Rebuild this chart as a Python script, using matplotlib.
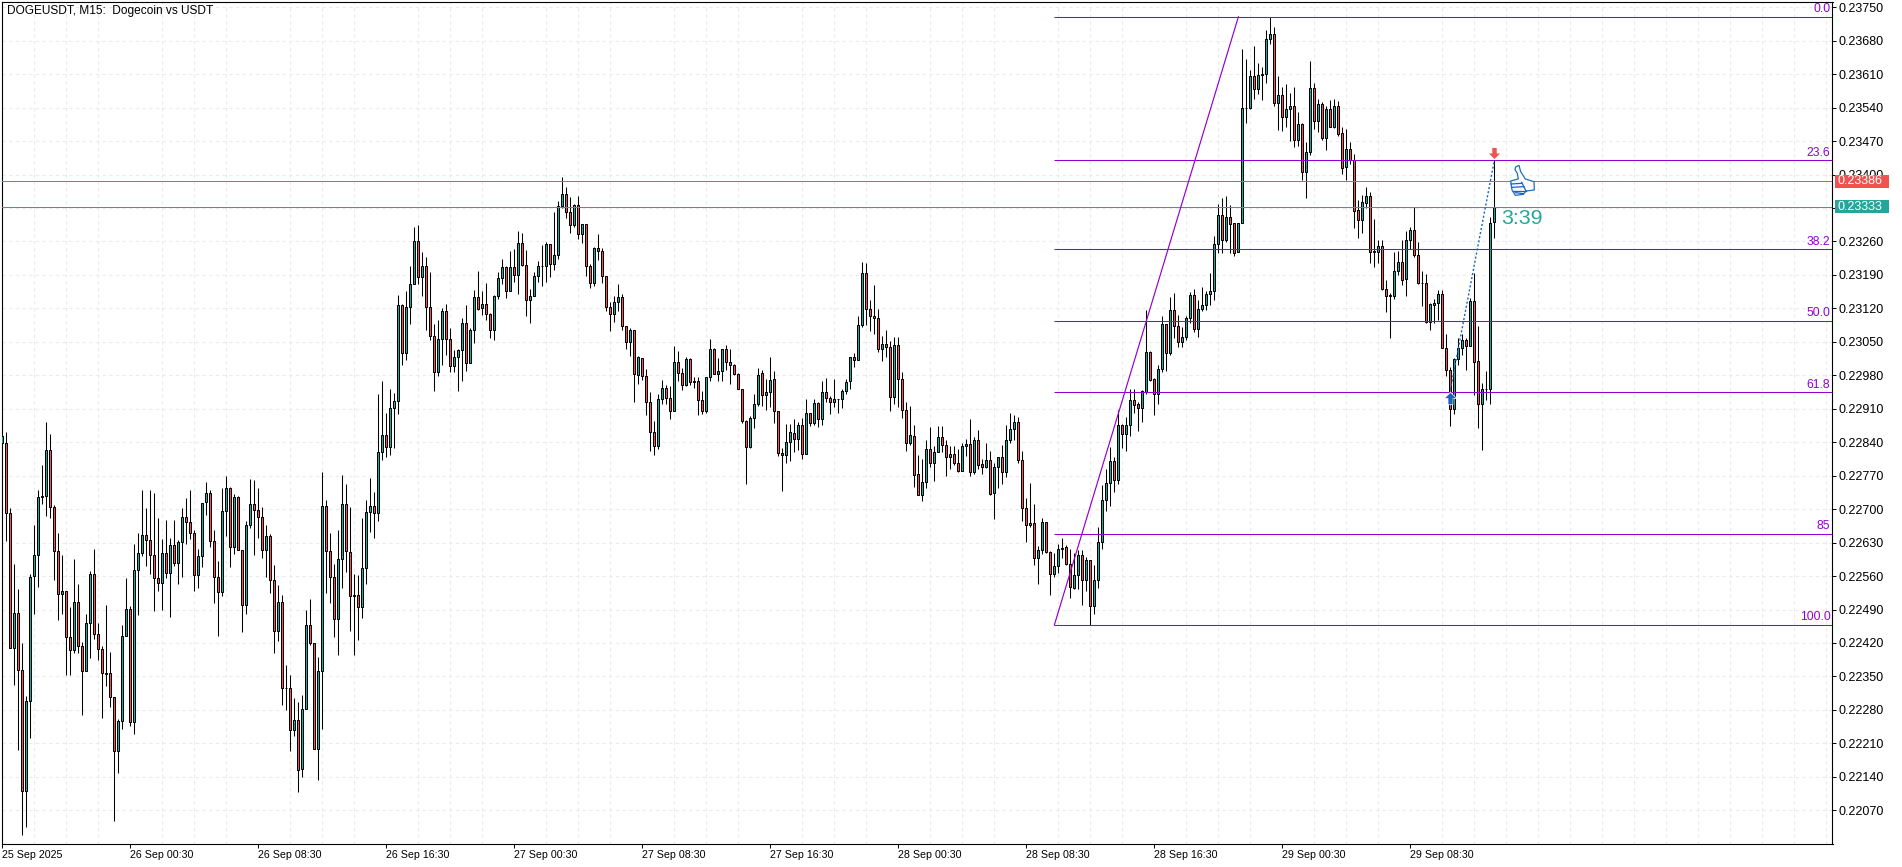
import numpy as np
import matplotlib
matplotlib.use("Agg")
import matplotlib.pyplot as plt
from matplotlib.path import Path
from matplotlib.patches import Rectangle, Polygon
from matplotlib.transforms import blended_transform_factory

W, H = 1902, 867
FONT = "Liberation Sans"
plt.rcParams["font.family"] = [FONT, "DejaVu Sans"]

# OHLC in 1e-5 price points, one candle every 15 minutes
opens = [
22838,22838,22692,22409,22483,22363,22110,22299,22560,22604,
22725,22727,22824,22704,22612,22522,22529,22432,22405,22506,
22413,22361,22462,22564,22439,22407,22357,22357,22307,22194,
22257,22434,22491,22255,22572,22608,22645,22635,22604,22556,
22545,22608,22566,22625,22587,22631,22683,22673,22650,22562,
22602,22714,22734,22633,22558,22527,22696,22744,22621,22725,
22614,22499,22667,22710,22698,22683,22614,22644,22552,22445,
22506,22326,22326,22237,22259,22156,22282,22458,22420,22198,
22361,22706,22613,22559,22471,22596,22711,22611,22521,22521,
22495,22576,22693,22706,22691,22819,22855,22831,22911,22926,
23127,23027,23123,23171,23261,23186,23209,23123,23062,22987,
23056,23114,23056,22999,23018,23033,23089,23006,23075,23144,
23120,23129,23108,23075,23146,23183,23206,23156,23206,23189,
23257,23211,23137,23146,23187,23208,23209,23255,23212,23232,
23334,23359,23321,23294,23336,23275,23296,23209,23174,23246,
23240,23187,23123,23108,23133,23144,23083,23050,23075,22981,
23016,22979,22924,22861,22832,22931,22954,22933,22906,23008,
22985,22960,23014,22968,22968,22929,22905,22977,23035,22983,
22989,23035,23008,23001,22982,22952,22885,22830,22891,22920,
22985,22939,22945,22973,22906,22818,22814,22841,22860,22847,
22876,22816,22901,22881,22922,22889,22945,22933,22924,22931,
22931,22947,22968,23019,23012,23086,23194,23118,23104,23099,
23035,23046,23039,22935,23044,22973,22908,22838,22853,22774,
22730,22757,22826,22797,22820,22851,22835,22809,22816,22797,
22780,22832,22837,22777,22845,22794,22789,22803,22733,22789,
22810,22777,22845,22868,22882,22802,22702,22670,22670,22597,
22615,22674,22611,22565,22582,22617,22620,22586,22535,22563,
22605,22552,22593,22497,22552,22632,22720,22755,22800,22761,
22875,22858,22875,22929,22919,22911,22945,23028,22973,22941,
22993,23088,23027,23117,23084,23050,23061,23100,23148,23077,
23118,23127,23151,23157,23255,23315,23262,23312,23298,23237,
23299,23539,23539,23607,23578,23608,23611,23683,23694,23550,
23567,23521,23536,23544,23473,23506,23405,23447,23580,23511,
23548,23476,23538,23499,23544,23486,23416,23454,23431,23325,
23305,23340,23356,23239,23238,23251,23161,23147,23146,23198,
23216,23182,23264,23283,23232,23173,23173,23092,23127,23131,
23151,23038,22992,22910,23014,23038,23053,23042,23136,23009,
22919,22951,22952,23301]

closes = [
22854,22692,22409,22483,22363,22110,22299,22558,22604,22725,
22727,22824,22704,22612,22522,22529,22432,22405,22506,22413,
22361,22462,22564,22439,22407,22357,22356,22307,22194,22257,
22435,22491,22255,22573,22608,22645,22635,22604,22556,22545,
22608,22566,22625,22587,22631,22683,22673,22650,22562,22602,
22713,22734,22633,22558,22527,22696,22744,22621,22725,22614,
22499,22667,22710,22698,22683,22614,22644,22552,22445,22506,
22326,22325,22237,22259,22154,22282,22458,22420,22198,22361,
22706,22613,22559,22471,22596,22711,22613,22519,22519,22495,
22576,22693,22706,22691,22819,22855,22831,22911,22926,23127,
23027,23123,23171,23261,23186,23209,23123,23062,22987,23056,
23114,23056,22999,23018,23033,23089,23006,23075,23144,23119,
23129,23108,23075,23146,23183,23206,23156,23206,23189,23257,
23211,23137,23146,23187,23208,23209,23255,23212,23232,23334,
23359,23321,23294,23337,23275,23296,23208,23174,23246,23239,
23187,23123,23108,23133,23144,23083,23050,23075,22983,23018,
22979,22924,22861,22832,22931,22954,22932,22906,23008,22985,
22960,23014,22966,22966,22929,22906,22977,23035,22983,22989,
23035,23008,23001,22982,22952,22884,22830,22891,22920,22981,
22939,22945,22970,22906,22818,22814,22841,22862,22847,22876,
22816,22901,22881,22922,22889,22945,22932,22924,22931,22930,
22947,22966,23019,23012,23086,23194,23118,23104,23099,23035,
23046,23039,22935,23044,22973,22908,22838,22855,22772,22730,
22757,22826,22797,22820,22851,22835,22809,22816,22796,22780,
22833,22837,22777,22845,22793,22789,22803,22732,22789,22810,
22777,22845,22868,22882,22802,22702,22667,22667,22597,22615,
22674,22611,22565,22582,22617,22619,22586,22537,22563,22605,
22552,22593,22497,22552,22632,22720,22755,22800,22761,22875,
22858,22875,22929,22918,22911,22947,23028,22971,22941,22993,
23088,23027,23117,23084,23050,23061,23100,23148,23077,23118,
23127,23151,23157,23255,23315,23262,23312,23297,23236,23299,
23540,23540,23607,23578,23609,23611,23684,23694,23550,23567,
23521,23536,23544,23473,23506,23405,23447,23580,23511,23548,
23476,23538,23499,23544,23485,23414,23454,23431,23324,23305,
23342,23356,23238,23238,23251,23161,23146,23146,23199,23216,
23180,23264,23283,23232,23172,23172,23092,23129,23131,23151,
23038,22992,22910,23014,23038,23053,23042,23136,23008,22919,
22952,22952,23299,23333]

highs = [
22854,22861,22702,22586,22532,22420,22310,22565,22667,22741,
22793,22882,22858,22709,22650,22603,22529,22495,22596,22544,
22423,22481,22571,22617,22462,22414,22499,22401,22307,22260,
22458,22555,22497,22627,22650,22741,22703,22739,22734,22681,
22637,22678,22640,22677,22635,22703,22724,22739,22657,22617,
22713,22757,22739,22657,22592,22745,22770,22746,22731,22728,
22614,22675,22763,22760,22744,22704,22667,22649,22584,22542,
22520,22374,22353,22305,22297,22312,22488,22513,22420,22391,
22778,22720,22651,22586,22656,22771,22752,22705,22564,22562,
22682,22720,22765,22735,22941,22969,22902,22951,22943,23148,
23130,23157,23209,23291,23294,23238,23227,23197,23088,23096,
23121,23130,23079,23033,23036,23100,23128,23078,23159,23199,
23157,23174,23110,23148,23197,23224,23208,23241,23244,23282,
23278,23243,23160,23197,23220,23253,23259,23255,23322,23344,
23395,23374,23353,23339,23356,23296,23296,23213,23248,23276,
23246,23187,23133,23145,23171,23151,23083,23078,23075,23021,
23016,22993,22946,22885,22941,22970,22959,22957,23042,23030,
22996,23019,23016,22977,22977,22948,22977,23056,23037,23017,
23035,23044,23036,23003,22984,22952,22887,22895,22940,22996,
22991,22973,23019,22989,22906,22828,22878,22878,22888,22883,
22891,22930,22901,22931,22924,22967,22975,22936,22973,22931,
22952,22973,23019,23026,23105,23218,23215,23138,23168,23119,
23063,23074,23051,23060,23060,22986,22924,22915,22877,22814,
22804,22845,22871,22832,22873,22873,22844,22832,22833,22825,
22838,22847,22888,22851,22866,22804,22838,22821,22796,22810,
22834,22877,22901,22896,22892,22821,22723,22755,22710,22622,
22682,22674,22612,22608,22628,22639,22625,22616,22608,22615,
22615,22599,22593,22583,22662,22750,22783,22831,22808,22907,
22878,22892,22951,22952,22924,22949,23116,23030,22975,23002,
23103,23088,23143,23153,23107,23082,23105,23154,23160,23137,
23165,23157,23195,23272,23338,23350,23356,23336,23299,23299,
23663,23641,23619,23668,23634,23624,23702,23729,23709,23606,
23584,23590,23571,23584,23530,23508,23469,23637,23592,23557,
23552,23544,23555,23557,23553,23499,23496,23468,23442,23346,
23357,23373,23364,23306,23264,23264,23180,23153,23237,23241,
23262,23282,23291,23332,23258,23199,23192,23131,23139,23158,
23159,23066,22998,23016,23057,23067,23057,23142,23193,23083,
22963,22988,23311,23430]

lows = [
22831,22633,22409,22333,22197,22018,22036,22221,22481,22538,
22711,22686,22681,22552,22467,22481,22354,22352,22400,22400,
22269,22361,22389,22428,22384,22264,22329,22285,22047,22149,
22239,22434,22246,22229,22479,22601,22582,22564,22486,22529,
22490,22556,22475,22580,22544,22559,22626,22638,22529,22534,
22578,22688,22621,22503,22434,22518,22644,22578,22606,22614,
22442,22480,22660,22603,22640,22597,22557,22524,22398,22425,
22290,22279,22193,22225,22108,22139,22282,22415,22198,22134,
22240,22525,22504,22433,22395,22535,22569,22445,22395,22426,
22472,22543,22652,22640,22675,22802,22808,22814,22827,22900,
23002,23013,23088,23171,23170,23146,23075,23054,22948,22978,
23002,23023,22987,22987,22948,22967,22988,23006,23047,23117,
23107,23095,23059,23054,23139,23170,23141,23156,23176,23151,
23209,23105,23089,23145,23176,23166,23176,23185,23201,23224,
23329,23308,23277,23291,23266,23256,23188,23162,23166,23222,
23174,23114,23073,23091,23114,23074,23034,23021,22925,22962,
22971,22896,22821,22813,22825,22920,22919,22888,22906,22967,
22950,22958,22960,22953,22897,22899,22901,22968,22982,22969,
22969,22992,22961,22981,22952,22881,22752,22828,22869,22915,
22915,22908,22913,22881,22811,22738,22796,22800,22819,22823,
22804,22816,22874,22876,22871,22877,22925,22898,22913,22901,
22912,22940,22952,22998,23012,23081,23085,23072,23067,23028,
23010,23018,22906,22919,22913,22890,22821,22835,22746,22729,
22718,22745,22788,22758,22820,22820,22770,22784,22793,22777,
22780,22812,22770,22774,22783,22774,22785,22730,22679,22744,
22753,22767,22839,22844,22797,22675,22632,22663,22584,22544,
22606,22608,22521,22558,22567,22598,22583,22514,22532,22533,
22500,22529,22458,22481,22535,22617,22697,22706,22736,22753,
22828,22822,22854,22902,22864,22883,22941,22969,22897,22919,
22987,22988,23022,23058,23039,23039,23054,23090,23071,23060,
23114,23116,23127,23137,23235,23235,23259,23235,23230,23237,
23299,23508,23537,23558,23568,23556,23592,23673,23543,23493,
23492,23499,23470,23458,23460,23388,23351,23440,23496,23489,
23472,23451,23499,23498,23480,23402,23388,23423,23288,23267,
23278,23329,23214,23207,23214,23158,23112,23058,23140,23189,
23168,23146,23245,23227,23171,23124,23090,23074,23090,23095,
23038,22979,22874,22900,23001,23022,22991,23041,22939,22869,
22823,22928,22919,23267]

time_ticks = [0, 32, 64, 96, 128, 160, 192, 224, 256, 288, 320, 352]
time_labels = ["25 Sep 2025", "26 Sep 00:30", "26 Sep 08:30", "26 Sep 16:30",
               "27 Sep 00:30", "27 Sep 08:30", "27 Sep 16:30", "28 Sep 00:30",
               "28 Sep 08:30", "28 Sep 16:30", "29 Sep 00:30", "29 Sep 08:30"]
price_ticks = [0.22070, 0.22140, 0.22210, 0.22280, 0.22350, 0.22420, 0.22490,
               0.22560, 0.22630, 0.22700, 0.22770, 0.22840, 0.22910, 0.22980,
               0.23050, 0.23120, 0.23190, 0.23260, 0.23330, 0.23400, 0.23470,
               0.23540, 0.23610, 0.23680, 0.23750]
fib_prices = [0.23730, 0.23430, 0.23244, 0.23094, 0.22944, 0.22649, 0.22458]
fib_names = ["0.0", "23.6", "38.2", "50.0", "61.8", "85", "100.0"]
fib_bar_start, fib_bar_end = 263, 309
ask_price, bid_price = 0.23386, 0.23333
trade_bars = [362, 373]
trade_prices = [0.22950, 0.23430]
arrow_prices = [0.22932, 0.23445]
timer_text = "3:39"
title_text = "DOGEUSDT, M15:  Dogecoin vs USDT"

UP, DOWN = "#26A69A", "#EF5350"
PURPLE = "#9400D3"
BLUE = "#1565C0"
GRID = "#EBEBEB"

o, c, hi, lo = [np.array(a) / 1e5 for a in (opens, closes, highs, lows)]
assert len(o) == len(c) == len(hi) == len(lo)
idx = np.arange(len(o))

fig = plt.figure(figsize=(W / 100, H / 100), dpi=100, facecolor="white")
L, R, T, B = 2.4, 1832.5, 2.2, 843.5
ax = fig.add_axes([L / W, 1 - B / H, (R - L) / W, (B - T) / H])
ax.set_xlim(0, (R - L) / 4)
ax.set_ylim(0.2375 - (B - 7.2) / 47802, 0.2375 + (7.2 - T) / 47802)
ax.set_facecolor("white")
ax.set_axisbelow(True)

# grid and ticks
ax.set_xticks(time_ticks)
ax.set_xticklabels(time_labels, ha="left", fontsize=7.7)
ax.set_xticks(np.arange(0, 458, 8), minor=True)
ax.set_yticks(price_ticks)
ax.set_yticklabels([f"{p:.5f}" for p in price_ticks], fontsize=9)
ax.yaxis.tick_right()
ax.tick_params(axis="x", which="major", length=3, width=0.7, pad=1.5, color="black")
ax.tick_params(axis="y", which="major", length=3, width=0.7, pad=1.0, color="black")
ax.tick_params(axis="x", which="minor", length=0)
ax.grid(True, axis="x", which="minor", color=GRID, ls=(0, (3, 3)), lw=0.8)
ax.grid(True, axis="y", which="major", color=GRID, ls=(0, (3, 3)), lw=0.8)
for s in ax.spines.values():
    s.set_linewidth(0.8)
    s.set_color("black")

# candles
ax.vlines(idx, lo, hi, color="black", lw=0.75, zorder=3)
up = c >= o
ax.bar(idx[up], (c - o)[up], bottom=o[up], width=0.5, color=UP, edgecolor="black", lw=0.72, zorder=4)
ax.bar(idx[~up], (o - c)[~up], bottom=c[~up], width=0.5, color=DOWN, edgecolor="black", lw=0.72, zorder=4)

# price lines
ax.axhline(ask_price, color=DOWN, lw=0.72, zorder=5)
ax.axhline(bid_price, color=UP, lw=0.72, zorder=5)

# fibonacci
xmax = ax.get_xlim()[1]
ax.hlines(fib_prices, fib_bar_start, xmax, color=PURPLE, lw=0.75, zorder=6)
ax.plot([fib_bar_start, fib_bar_end], [fib_prices[-1], fib_prices[0]], color=PURPLE, lw=0.85, zorder=6)
for p, name in zip(fib_prices, fib_names):
    ax.annotate(name, xy=(1, p), xycoords=ax.get_yaxis_transform(), xytext=(-1.5, 1.0),
                textcoords="offset points", ha="right", va="bottom", color=PURPLE,
                fontsize=8.7, zorder=7)

# trade marks
ax.plot(trade_bars, trade_prices, color=BLUE, lw=1.0, ls=(0, (1.5, 1.5)), zorder=7)
arrow_up = Path([(0, .5), (.5, 0), (.2, 0), (.2, -.5), (-.2, -.5), (-.2, 0), (-.5, 0), (0, .5)], closed=True)
arrow_dn = Path([(0, -.5), (.5, 0), (.2, 0), (.2, .5), (-.2, .5), (-.2, 0), (-.5, 0), (0, -.5)], closed=True)
ax.plot(trade_bars[0], arrow_prices[0], marker=arrow_up, ms=9, color=BLUE, mec="white", mew=0.5, zorder=8)
ax.plot(trade_bars[1], arrow_prices[1], marker=arrow_dn, ms=8, color=DOWN, mew=0, zorder=8)

# timer
ax.text(trade_bars[1] + 1.7, bid_price - 0.00025, timer_text, color=UP, fontsize=15.4,
        va="center", ha="left", zorder=8)

# title
fig.text(7.3 / W, 1 - 10.7 / H, title_text, fontsize=8.6, color="black", va="center", ha="left")

# price tags
tr = blended_transform_factory(fig.transFigure, ax.transData)
tag_h = 13 / 47802
for price, col in ((ask_price, DOWN), (bid_price, UP)):
    ax.add_patch(Rectangle((1835 / W, price - tag_h / 2), 54 / W, tag_h, transform=tr,
                           facecolor=col, edgecolor="none", clip_on=False, zorder=9))
    ax.text(1838 / W, price, f"{price:.5f}", transform=tr, color="white", fontsize=9,
            va="center", ha="left", clip_on=False, zorder=10)

# thumbs-up icon
icon = fig.add_axes([1500 / W, 1 - 205 / H, 50 / W, 50 / H])
icon.set_xlim(0, 150)
icon.set_ylim(150, 0)
icon.axis("off")
icon.patch.set_alpha(0)
hand = [(47, 36), (57, 31), (62, 50), (76, 72), (102, 80), (103, 105), (78, 108),
        (70, 118), (46, 121), (36, 105), (32, 78), (55, 72), (52, 55), (45, 44)]
icon.add_patch(Polygon(hand, closed=True, facecolor="#FFFFFF", edgecolor=BLUE, lw=0.9, alpha=0.95))
for seg in ([(33, 87), (65, 85)], [(36, 97), (72, 95)], [(40, 107), (78, 107)], [(65, 82), (78, 108)],
            [(46, 113), (70, 116)]):
    icon.plot(*zip(*seg), color=BLUE, lw=0.9)

fig.savefig("out.png", dpi=100, facecolor="white")
